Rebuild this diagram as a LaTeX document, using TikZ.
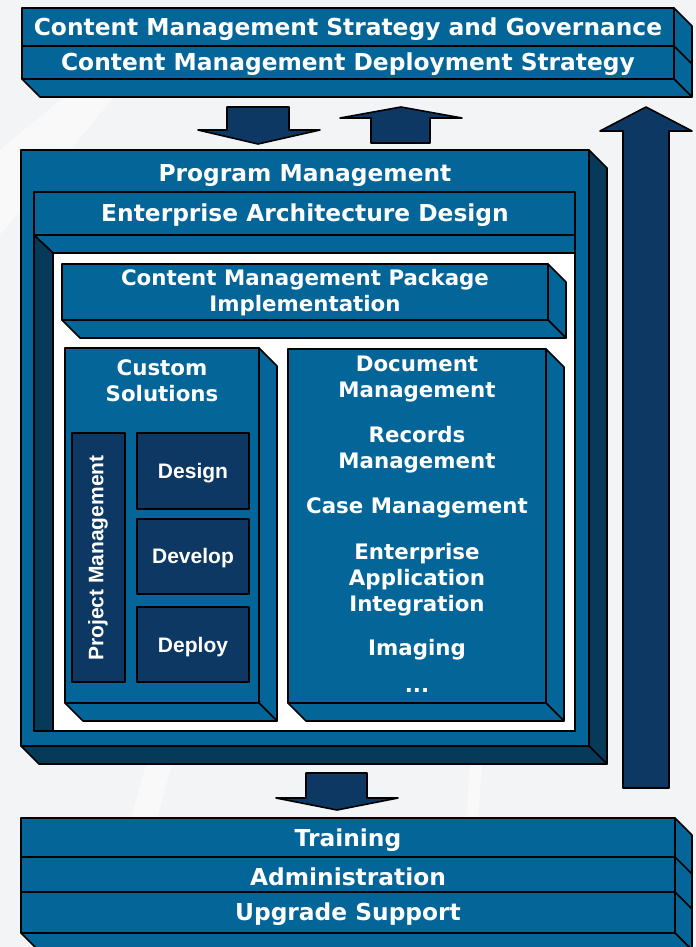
\documentclass[tikz,border=0pt]{standalone}
\usepackage{fontspec}
\setmainfont{DejaVu Sans}
\newfontfamily\arialfont{Liberation Sans}
\usepackage{tikz}

\definecolor{cmblue}{RGB}{4,101,152}
\definecolor{cmside}{RGB}{5,58,89}
\definecolor{cmnavy}{RGB}{13,56,99}
\definecolor{cmback}{RGB}{243,244,246}

\begin{document}
\begin{tikzpicture}[x=0.75pt,y=0.75pt,yscale=-1,xscale=1,
    face/.style={draw=black,line width=1.2pt,fill=cmblue,line join=round},
    darkface/.style={draw=black,line width=1.2pt,fill=cmside,line join=round},
    navyface/.style={draw=black,line width=1.2pt,fill=cmnavy,line join=round},
    band/.style={fill=white,opacity=0.5},
    bigtxt/.style={text=white,inner sep=0.75pt,align=center,font=\fontsize{17.5pt}{20pt}\selectfont\bfseries},
    boxtxt/.style={text=white,inner sep=0.75pt,align=center,font=\fontsize{16pt}{19.5pt}\selectfont\bfseries},
    steptxt/.style={text=white,inner sep=0.75pt,font=\arialfont\fontsize{15.75pt}{18pt}\selectfont\bfseries}]
    \useasboundingbox (0,0) rectangle (696,947);
    \clip (0,0) rectangle (696,947);
    \fill[cmback] (0,0) rectangle (696,947);
    %Shape: Background bands
    \fill[band] (0,235) -- (0,150) -- (70,92) -- (118,92) -- cycle ;
    \fill[band] (96,947) -- (122,947) -- (172,764) -- (146,764) -- cycle ;
    \fill[band] (458,947) -- (470,947) -- (482,764) -- (470,764) -- cycle ;

    %Shape: Cube (strategy)
    \draw[face] (674,8) -- (692,26) -- (692,97) -- (674,79) -- cycle ;
    \draw[face] (22,79) -- (674,79) -- (692,97) -- (40,97) -- cycle ;
    \draw[face] (22,8) rectangle (674,46) ;
    \draw[face] (22,46) rectangle (674,79) ;
    \draw[line width=1.2pt] (674,46) -- (692,64) ;

    %Shape: Arrows
    \draw[navyface] (227,107) -- (289,107) -- (289,130) -- (320,130) -- (258,144) -- (198,130) -- (227,130) -- cycle ;
    \draw[navyface] (371,143) -- (430,143) -- (430,118) -- (462,118) -- (401,107) -- (340,118) -- (371,118) -- cycle ;
    \draw[navyface] (623,788) -- (669,788) -- (669,131) -- (692,131) -- (646,107) -- (600,131) -- (623,131) -- cycle ;
    \draw[navyface] (306,773) -- (367,773) -- (367,798) -- (398,798) -- (337,810) -- (276,798) -- (306,798) -- cycle ;

    %Shape: Cube (program)
    \draw[darkface] (589,150) -- (607,168) -- (607,764) -- (589,746) -- cycle ;
    \draw[darkface] (21,746) -- (589,746) -- (607,764) -- (39,764) -- cycle ;
    \draw[face] (21,150) rectangle (589,746) ;
    \draw[face] (34,192) rectangle (575,235) ;
    \draw[face] (34,235) -- (575,235) -- (575,253) -- (53,253) -- cycle ;
    \draw[darkface] (34,235) -- (53,253) -- (53,731) -- (34,731) -- cycle ;
    \draw[line width=1.2pt,fill=white] (53,253) rectangle (575,731) ;

    %Shape: Cube (package)
    \draw[face] (548,264) -- (566,282) -- (566,338) -- (548,320) -- cycle ;
    \draw[face] (62,320) -- (548,320) -- (566,338) -- (80,338) -- cycle ;
    \draw[face] (62,264) rectangle (548,320) ;

    %Shape: Cube (custom)
    \draw[face] (259,348) -- (277,366) -- (277,721) -- (259,703) -- cycle ;
    \draw[face] (65,703) -- (259,703) -- (277,721) -- (83,721) -- cycle ;
    \draw[face] (65,348) rectangle (259,703) ;
    \draw[navyface] (72,433) rectangle (125,682) ;
    \draw[navyface] (137,433) rectangle (249,509) ;
    \draw[navyface] (137,519) rectangle (249,594) ;
    \draw[navyface] (137,607) rectangle (249,682) ;

    %Shape: Cube (document)
    \draw[face] (546,349) -- (564,367) -- (564,721) -- (546,703) -- cycle ;
    \draw[face] (288,703) -- (546,703) -- (564,721) -- (306,721) -- cycle ;
    \draw[face] (288,349) rectangle (546,703) ;

    %Shape: Cube (support)
    \draw[face] (675,818) -- (692,835) -- (692,950) -- (675,933) -- cycle ;
    \draw[face] (21,933) -- (675,933) -- (692,950) -- (38,950) -- cycle ;
    \draw[face] (21,818) rectangle (675,857) ;
    \draw[face] (21,857) rectangle (675,892) ;
    \draw[face] (21,892) rectangle (675,933) ;
    \draw[line width=1.2pt] (675,857) -- (692,874) ;
    \draw[line width=1.2pt] (675,892) -- (692,909) ;

    % Text Node
    \node[bigtxt] (governance) at (348,29) {Content Management Strategy and Governance};
    % Text Node
    \node[bigtxt] (deployment) at (348,64) {Content Management Deployment Strategy};
    % Text Node
    \node[bigtxt] (program) at (305,176) {Program Management};
    % Text Node
    \node[bigtxt] (architecture) at (305,215) {Enterprise Architecture Design};
    % Text Node
    \node[boxtxt] (package) at (305,293) {Content Management Package\\Implementation};
    % Text Node
    \node[boxtxt] (custom) at (162,381) {Custom\\Solutions};
    % Text Node
    \node[steptxt,rotate=90] (project) at (98,558) {Project Management};
    % Text Node
    \node[steptxt] (design) at (193,473) {Design};
    % Text Node
    \node[steptxt] (develop) at (193,558) {Develop};
    % Text Node
    \node[steptxt] (deploy) at (193,647) {Deploy};
    % Text Node
    \node[boxtxt] (document) at (417,379) {Document\\Management};
    % Text Node
    \node[boxtxt] (records) at (417,450) {Records\\Management};
    % Text Node
    \node[boxtxt] (case) at (417,508) {Case Management};
    % Text Node
    \node[boxtxt] (integration) at (417,580) {Enterprise\\Application\\Integration};
    % Text Node
    \node[boxtxt] (imaging) at (417,650) {Imaging};
    % Text Node
    \node[boxtxt] (more) at (417,690) {...};
    % Text Node
    \node[bigtxt] (training) at (348,840) {Training};
    % Text Node
    \node[bigtxt] (administration) at (348,877) {Administration};
    % Text Node
    \node[bigtxt] (upgrade) at (348,914) {Upgrade Support};
\end{tikzpicture}
\end{document}
